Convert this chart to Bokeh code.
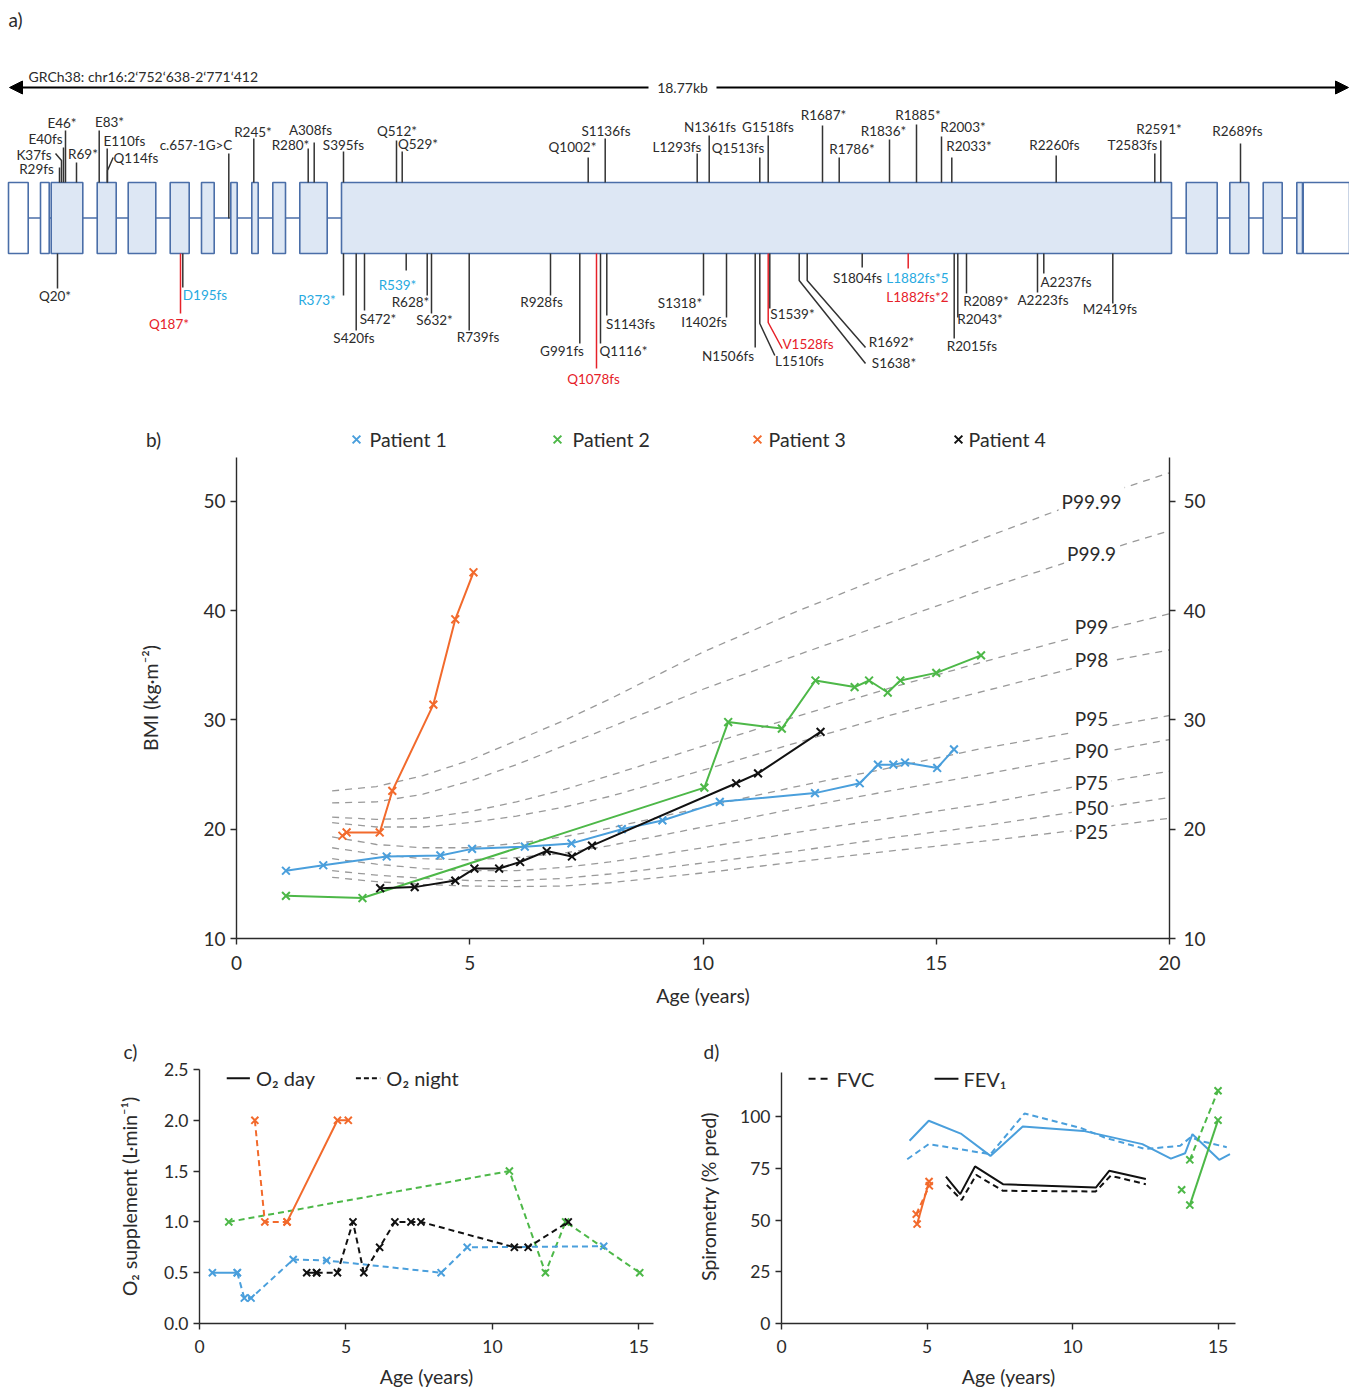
import math
from bokeh.plotting import figure
from bokeh.models import (Range1d, LinearAxis, FixedTicker, Label, Arrow, NormalHead,
                          PrintfTickFormatter)
from bokeh.layouts import row
from bokeh.embed import file_html
from bokeh.resources import INLINE
from bokeh.core.properties import value

FONT = "Lato"
TXT = "#2b2b2b"
BLUE = "#4a9fdc"
GREEN = "#4db848"
ORANGE = "#f26a2c"
BLACK = "#111111"
CYAN = "#27aae1"
RED = "#e62129"
EXON_FILL = "#dde7f4"
EXON_LINE = "#4a6ea8"
NAN = float("nan")

# ---------------- panel a data (diagram units along the gene) ----------------
exon_start = [8, 40, 50.7, 96.7, 127.7, 169.7, 201, 230.3, 251.3, 272.3, 299.3, 341,
              1185.7, 1229.3, 1262.7, 1296.3, 1302.7]
exon_end = [27.7, 48.7, 82.3, 115.7, 155.3, 188.7, 213.7, 236.7, 257.7, 285, 326.7, 1171,
            1216.7, 1248.3, 1281.7, 1302, 1349]
exon_utr = [1, 1, 0, 0, 0, 0, 0, 0, 0, 0, 0, 0, 0, 0, 0, 0, 1]

up_names = ["R29fs", "K37fs", "E40fs", "E46*", "R69*", "E83*", "E110fs", "Q114fs", "c.657-1G>C",
            "R245*", "R280*", "A308fs", "S395fs", "Q512*", "Q529*", "Q1002*", "S1136fs", "L1293fs",
            "N1361fs", "Q1513fs", "G1518fs", "R1687*", "R1786*", "R1836*", "R1885*", "R2003*",
            "R2033*", "R2260fs", "T2583fs", "R2591*", "R2689fs"]
up_pos = [59, 61, 63, 65, 76, 98.7, 106.7, 107, 228.3, 253.3, 307.7, 313.7, 343, 396, 401.7,
          587.7, 604.7, 696.7, 708.7, 759.3, 767.7, 822, 838.7, 889, 916, 941, 951.3, 1055.7,
          1154.3, 1160.3, 1240]
up_end = [167, 160, 147, 130, 162, 130, 148, 170, 153, 138, 148, 142, 151, 140, 151, 157, 138,
          153, 135, 157, 135, 125, 157, 139, 124, 136, 157, 155, 153, 140, 143]
up_bend_x = [NAN, 55, NAN, NAN, NAN, NAN, NAN, 112.7] + [NAN] * 23
up_bend_y = [NAN, 153, NAN, NAN, NAN, NAN, NAN, 157] + [NAN] * 23
up_label_x = [36, 33.5, 45, 61.5, 82.5, 109, 124, 135.5, 195.5, 252.5, 290, 310, 343, 396.5,
              417.5, 572, 605.5, 676.5, 709.5, 737.5, 767.5, 823, 851.5, 883, 917.5, 962.5,
              968.5, 1054, 1132, 1158.5, 1237]
up_label_y = [168, 154, 138, 122, 153, 121, 140, 157, 144, 131, 144, 129, 144, 130, 143, 146,
              130, 146, 126, 147, 126, 114, 148, 130, 114, 126, 145, 144, 144, 128, 130]

dn_names = ["Q20*", "Q187*", "D195fs", "R373*", "S420fs", "S472*", "R539*", "R628*", "S632*",
            "R739fs", "R928fs", "G991fs", "Q1078fs", "Q1116*", "S1143fs", "S1318*", "I1402fs",
            "N1506fs", "L1510fs", "V1528fs", "S1539*", "S1638*", "R1692*", "S1804fs",
            "L1882fs*2", "R2015fs", "R2043*", "R2089*", "A2223fs", "A2237fs", "M2419fs"]
dn_pos = [57, 180, 182.3, 343, 355.7, 364, 405.7, 426.7, 431, 468.7, 550, 579.3, 596, 600,
          606.3, 703, 726, 754.7, 759.3, 767.7, 769.3, 798.7, 806.7, 861.7, 907.7, 953.7,
          957.3, 966, 1037, 1043.3, 1112.3]
dn_end = [288, 313, 287, 295, 330, 310, 270, 295, 313, 330, 295, 343, 368, 343, 315, 295, 317,
          347, 323, 322, 308, 280, 280, 267, 268, 338, 317, 293, 292, 273, 303]
dn_bend_x = [NAN] * 18 + [774.3, 781.7, NAN, 865, 865] + [NAN] * 8
dn_bend_y = [NAN] * 18 + [355, 348, NAN, 363, 347] + [NAN] * 8
dn_label_x = [54.5, 168.5, 204.5, 316.5, 353.5, 377.5, 397, 410, 434, 477.5, 541, 561.5, 593,
              623, 630, 679.5, 703.5, 727.5, 799, 807.5, 792, 893.5, 891, 857, 917, 971.5,
              979.5, 985.5, 1042.5, 1065.5, 1109.5]
dn_label_y = [295, 323, 294, 299, 337, 318, 284, 301, 319, 336, 301, 350, 378, 350, 323, 302,
              321, 355, 360, 343, 313, 362, 341, 277, 296, 345, 318, 300, 299, 281, 308]
dn_kind = ["k", "r", "c", "c", "k", "k", "c", "k", "k", "k", "k", "k", "r", "k", "k", "k", "k",
           "k", "k", "r", "k", "k", "k", "k", "r", "k", "k", "k", "k", "k", "k"]

# ---------------- panel b data ----------------
patients = ["Patient 1", "Patient 2", "Patient 3", "Patient 4"]
p1_age = [1.06, 1.86, 3.22, 4.37, 5.05, 6.18, 7.18, 8.26, 9.13, 10.36, 12.40, 13.36, 13.75,
          14.08, 14.33, 15.02, 15.38]
p1_bmi = [16.2, 16.7, 17.5, 17.6, 18.2, 18.4, 18.7, 20.0, 20.8, 22.5, 23.3, 24.2, 25.9, 25.9,
          26.1, 25.6, 27.3]
p2_age = [1.06, 2.70, 10.03, 10.54, 11.69, 12.41, 13.25, 13.56, 13.96, 14.23, 15.0, 15.96]
p2_bmi = [13.9, 13.7, 23.8, 29.8, 29.2, 33.6, 33.0, 33.6, 32.5, 33.6, 34.3, 35.9]
p3_age = [2.27, 2.36, 3.07, 3.34, 4.22, 4.69, 5.08]
p3_bmi = [19.4, 19.7, 19.7, 23.5, 31.4, 39.2, 43.5]
p4_age = [3.08, 3.82, 4.69, 5.10, 5.63, 6.08, 6.65, 7.19, 7.62, 10.71, 11.18, 12.52]
p4_bmi = [14.6, 14.7, 15.3, 16.4, 16.4, 17.0, 18.0, 17.5, 18.5, 24.2, 25.1, 28.9]

pct_age = [2.05, 3, 4, 5, 6, 7, 8, 10, 12, 14, 16, 18, 20]
pct_names = ["P25", "P50", "P75", "P90", "P95", "P98", "P99", "P99.9", "P99.99"]
pct_vals = [
    [15.6, 15.2, 14.95, 14.8, 14.75, 14.8, 15.1, 16.0, 17.0, 18.0, 18.9, 19.9, 21.0],
    [16.2, 15.8, 15.5, 15.3, 15.3, 15.5, 15.9, 16.9, 18.0, 19.2, 20.3, 21.6, 22.9],
    [17.3, 16.8, 16.4, 16.2, 16.2, 16.5, 17.0, 18.3, 19.7, 21.0, 22.3, 23.9, 25.3],
    [18.3, 17.7, 17.3, 17.2, 17.4, 17.8, 18.5, 20.2, 21.9, 23.5, 25.0, 26.6, 28.2],
    [19.3, 18.6, 18.3, 18.3, 18.7, 19.3, 20.1, 22.0, 23.9, 25.6, 27.4, 28.9, 30.4],
    [20.6, 20.2, 20.2, 20.6, 21.2, 22.0, 23.0, 25.4, 27.9, 30.4, 32.6, 34.8, 36.4],
    [21.1, 20.9, 21.0, 21.6, 22.5, 23.6, 24.9, 27.6, 30.3, 32.9, 35.3, 37.6, 39.7],
    [22.4, 22.5, 23.2, 24.4, 25.9, 27.6, 29.3, 32.8, 35.9, 38.9, 41.9, 44.7, 47.3],
    [23.5, 23.9, 24.9, 26.3, 28.1, 29.9, 31.9, 36.2, 39.9, 43.3, 46.6, 49.8, 52.6],
]
pct_label_age = 18.33
pct_label_bmi = [19.8, 22.0, 24.3, 27.2, 30.1, 35.5, 38.5, 45.2, 50.0]

# ---------------- panel c data ----------------
c1_day_age = [0.44, 1.29]
c1_day = [0.5, 0.5]
c1_night_age = [1.29, 1.53, 1.76, 3.20, 4.34, 8.25, 9.14, 13.8]
c1_night = [0.5, 0.25, 0.25, 0.63, 0.62, 0.5, 0.75, 0.76]
c2_night_age = [1.0, 10.58, 11.81, 12.5, 15.03]
c2_night = [1.0, 1.5, 0.5, 1.0, 0.5]
c3_night_age = [1.89, 2.23, 2.99]
c3_night = [2.0, 1.0, 1.0]
c3_day_age = [2.99, 4.71, 5.08]
c3_day = [1.0, 2.0, 2.0]
c4_day_age = [3.66, 4.0]
c4_day = [0.5, 0.5]
c4_night_age = [4.0, 4.71, 5.24, 5.61, 6.15, 6.67, 7.22, 7.56, 10.75, 11.22, 12.59]
c4_night = [0.5, 0.5, 1.0, 0.5, 0.75, 1.0, 1.0, 1.0, 0.75, 0.75, 1.0]

# ---------------- panel d data ----------------
d1_fev_age = [4.40, 5.06, 6.16, 7.18, 8.29, 10.37, 12.40, 13.38, 13.87, 14.12, 15.04, 15.41]
d1_fev = [88.4, 98.1, 91.9, 81.1, 95.3, 93.2, 86.8, 79.8, 82.4, 91.6, 79.2, 81.9]
d1_fvc_age = [4.32, 5.06, 7.18, 8.35, 10.3, 11.1, 12.5, 13.7, 14.05, 14.5, 15.3]
d1_fvc = [79.5, 86.8, 81.9, 101.6, 94.5, 90.0, 84.4, 86.0, 90.0, 88.0, 85.3]
d4_fev_age = [5.65, 6.14, 6.65, 7.61, 10.80, 11.26, 12.52]
d4_fev = [71.1, 62.6, 76.0, 67.4, 65.8, 73.9, 69.9]
d4_fvc_age = [5.68, 6.19, 6.69, 7.61, 10.80, 11.31, 12.52]
d4_fvc = [67.1, 59.7, 71.9, 64.2, 63.9, 71.5, 67.4]
d3_fev_age = [4.66, 5.07]
d3_fev = [48.1, 68.7]
d3_fvc_age = [4.63, 5.08]
d3_fvc = [52.9, 66.6]
d2_fev_age = [14.03, 15.0]
d2_fev = [57.3, 98.4]
d2_fvc_age = [14.03, 15.0]
d2_fvc = [79.2, 112.6]
d2_other_age = [13.75]
d2_other = [64.7]


def lab(p, x, y, text, size, color=TXT, align="center", baseline="middle", angle=0.0, bg=None):
    kw = dict(x=x, y=y, text=text, text_font=FONT, text_font_size=size, text_color=color,
              text_align=align, text_baseline=baseline, angle=angle)
    if bg is not None:
        kw["background_fill_color"] = bg
        kw["padding"] = 3
    p.add_layout(Label(**kw))


def style_axis(ax, size, label=None, label_standoff=10):
    ax.axis_line_color = TXT
    ax.axis_line_width = 1.4
    ax.major_tick_line_color = TXT
    ax.major_tick_line_width = 1.4
    ax.major_tick_out = 6
    ax.major_tick_in = 0
    ax.minor_tick_line_color = None
    ax.major_label_text_font = FONT
    ax.major_label_text_font_size = size
    ax.major_label_text_color = TXT
    ax.major_label_standoff = 5
    if label is not None:
        ax.axis_label = label
        ax.axis_label_text_font = FONT
        ax.axis_label_text_font_size = "19.5px"
        ax.axis_label_text_font_style = "normal"
        ax.axis_label_text_color = TXT
        ax.axis_label_standoff = label_standoff


# ======================= panel a (plus the heading row of b) =======================
pa = figure(width=1349, height=457, x_range=Range1d(0, 1349), y_range=Range1d(457, 0),
            toolbar_location=None, output_backend="svg", x_axis_location=None,
            y_axis_location=None, min_border=0)
pa.grid.visible = False
pa.outline_line_color = None

lab(pa, 8, 19, "a)", "19px", align="left")
lab(pa, 28, 76, "GRCh38: chr16:2\u2018752\u2018638-2\u2018771\u2018412", "14px", align="left")
lab(pa, 682, 87, "18.77kb", "14px")
pa.add_layout(Arrow(end=NormalHead(size=13, fill_color="black", line_color="black"),
                    x_start=648, y_start=87, x_end=9, y_end=87, line_width=1.8, line_color="black"))
pa.add_layout(Arrow(end=NormalHead(size=13, fill_color="black", line_color="black"),
                    x_start=716, y_start=87, x_end=1348, y_end=87, line_width=1.8, line_color="black"))

pa.segment(x0=[exon_end[0]], y0=[217.5], x1=[exon_start[-1]], y1=[217.5],
           line_color=EXON_LINE, line_width=1.6)
pa.quad(left=exon_start, right=exon_end, top=182, bottom=253,
        fill_color=["white" if u else EXON_FILL for u in exon_utr],
        line_color=EXON_LINE, line_width=1.6)

col_of = {"k": TXT, "r": RED, "c": CYAN}
stem_of = {"k": "#333333", "r": RED, "c": "#333333"}

xs, ys = [], []
for i, x in enumerate(up_pos):
    base = 218 if up_names[i].startswith("c.") else 182
    if math.isnan(up_bend_x[i]):
        xs.append([x, x]); ys.append([base, up_end[i]])
    else:
        xs.append([x, x, up_bend_x[i]]); ys.append([base, up_end[i], up_bend_y[i]])
pa.multi_line(xs=xs, ys=ys, line_color="#333333", line_width=1.5)
pa.text(x=up_label_x, y=up_label_y, text=up_names, text_font=value(FONT),
        text_font_size="13.5px", text_color=TXT, text_align="center", text_baseline="middle")

xs, ys, cs = [], [], []
for i, x in enumerate(dn_pos):
    if math.isnan(dn_bend_x[i]):
        xs.append([x, x]); ys.append([253, dn_end[i]])
    else:
        xs.append([x, x, dn_bend_x[i]]); ys.append([253, dn_end[i], dn_bend_y[i]])
    cs.append(stem_of[dn_kind[i]])
pa.multi_line(xs=xs, ys=ys, line_color=cs, line_width=1.5)
pa.text(x=dn_label_x, y=dn_label_y, text=dn_names, text_font=value(FONT),
        text_font_size="13.5px", text_color=[col_of[k] for k in dn_kind],
        text_align="center", text_baseline="middle")
pa.text(x=[917], y=[277], text=["L1882fs*5"], text_font=value(FONT), text_font_size="13.5px",
        text_color=CYAN, text_align="center", text_baseline="middle")

# heading row of panel b: panel letter and patient legend
lab(pa, 153, 439, "b)", "19px")
leg_colors = [BLUE, GREEN, ORANGE, BLACK]
leg_mark_x = [356, 557, 757, 958]
leg_text_x = [369, 572, 768, 968]
pa.scatter(leg_mark_x, [439] * 4, marker="x", size=11, line_color=leg_colors, line_width=2)
pa.text(x=leg_text_x, y=[439] * 4, text=patients, text_font=value(FONT),
        text_font_size="19.5px", text_color=TXT, text_align="left", text_baseline="middle")

# ======================= panel b =======================
pb = figure(width=1349, height=558, x_range=Range1d(0, 20), y_range=Range1d(10, 54),
            toolbar_location=None, output_backend="svg", min_border_left=236,
            min_border_right=180, min_border_top=0, min_border_bottom=77)
pb.grid.visible = False
pb.outline_line_color = None
pb.xaxis.ticker = FixedTicker(ticks=[0, 5, 10, 15, 20])
pb.yaxis.ticker = FixedTicker(ticks=[10, 20, 30, 40, 50])
pb.add_layout(LinearAxis(ticker=FixedTicker(ticks=[10, 20, 30, 40, 50])), "right")
style_axis(pb.xaxis[0], "19px", "Age (years)", 11)
style_axis(pb.yaxis[0], "19px", "BMI (kg\u00b7m\u207b\u00b2)", 38)
style_axis(pb.yaxis[1], "19px")
pb.xaxis.major_label_standoff = 11
pb.yaxis[1].major_label_standoff = 8

for vals in pct_vals:
    pb.line(pct_age, vals, line_color="#9a9a9a", line_width=1.3, line_dash="7 6")
for name, yv in zip(pct_names, pct_label_bmi):
    lab(pb, pct_label_age, yv, name, "19px", bg="white")

for ages, vals, c in [(p2_age, p2_bmi, GREEN), (p1_age, p1_bmi, BLUE),
                      (p4_age, p4_bmi, BLACK), (p3_age, p3_bmi, ORANGE)]:
    pb.line(ages, vals, line_color=c, line_width=2)
    pb.scatter(ages, vals, marker="x", size=11, line_color=c, line_width=2)

# ======================= panel c =======================
pc = figure(width=670, height=375, x_range=Range1d(0, 15.5), y_range=Range1d(0, 2.5),
            toolbar_location=None, output_backend="svg", min_border_left=199,
            min_border_right=17, min_border_top=54, min_border_bottom=67, title="c)")
pc.grid.visible = False
pc.outline_line_color = None
pc.xaxis.ticker = FixedTicker(ticks=[0, 5, 10, 15])
pc.yaxis.ticker = FixedTicker(ticks=[0, 0.5, 1.0, 1.5, 2.0, 2.5])
pc.yaxis.formatter = PrintfTickFormatter(format="%.1f")
style_axis(pc.xaxis[0], "17.5px", "Age (years)", 9)
style_axis(pc.yaxis[0], "17.5px", "O\u2082 supplement (L\u00b7min\u207b\u00b9)", 20)
pc.xaxis.major_label_standoff = 10

DASH = "6 4"
for ages, vals, c, dash in [
        (c2_night_age, c2_night, GREEN, DASH),
        (c1_day_age, c1_day, BLUE, "solid"), (c1_night_age, c1_night, BLUE, DASH),
        (c3_night_age, c3_night, ORANGE, DASH), (c3_day_age, c3_day, ORANGE, "solid"),
        (c4_day_age, c4_day, BLACK, "solid"), (c4_night_age, c4_night, BLACK, DASH)]:
    pc.line(ages, vals, line_color=c, line_width=2, line_dash=dash)
    pc.scatter(ages, vals, marker="x", size=10, line_color=c, line_width=2)

pc.line([0.93, 1.72], [2.415, 2.415], line_color=BLACK, line_width=2)
pc.line([5.34, 6.17], [2.415, 2.415], line_color=BLACK, line_width=2, line_dash="5 3")
lab(pc, 1.93, 2.415, "O\u2082 day", "20px", align="left")
lab(pc, 6.38, 2.415, "O\u2082 night", "20px", align="left")

# ======================= panel d =======================
pd = figure(width=679, height=375, x_range=Range1d(0, 15.6), y_range=Range1d(0, 122.9),
            toolbar_location=None, output_backend="svg", min_border_left=111,
            min_border_right=114, min_border_top=54, min_border_bottom=67, title="d)")
pd.grid.visible = False
pd.outline_line_color = None
pd.xaxis.ticker = FixedTicker(ticks=[0, 5, 10, 15])
pd.yaxis.ticker = FixedTicker(ticks=[0, 25, 50, 75, 100])
style_axis(pd.xaxis[0], "17.5px", "Age (years)", 9)
style_axis(pd.yaxis[0], "17.5px", "Spirometry (% pred)", 17)
pd.yaxis.bounds = (0, 121.4)
pd.xaxis.major_label_standoff = 10

for ages, vals, c, dash, mk in [
        (d1_fvc_age, d1_fvc, BLUE, DASH, False), (d1_fev_age, d1_fev, BLUE, "solid", False),
        (d4_fvc_age, d4_fvc, BLACK, DASH, False), (d4_fev_age, d4_fev, BLACK, "solid", False),
        (d3_fvc_age, d3_fvc, ORANGE, DASH, True), (d3_fev_age, d3_fev, ORANGE, "solid", True),
        (d2_fvc_age, d2_fvc, GREEN, DASH, True), (d2_fev_age, d2_fev, GREEN, "solid", True)]:
    pd.line(ages, vals, line_color=c, line_width=2, line_dash=dash)
    if mk:
        pd.scatter(ages, vals, marker="x", size=10, line_color=c, line_width=2)
pd.scatter(d2_other_age, d2_other, marker="x", size=10, line_color=GREEN, line_width=2)

pd.line([0.93, 1.68], [118.4, 118.4], line_color=BLACK, line_width=2, line_dash="7 5")
pd.line([5.26, 6.08], [118.4, 118.4], line_color=BLACK, line_width=2)
lab(pd, 1.89, 118.4, "FVC", "20px", align="left")
lab(pd, 6.25, 118.4, "FEV\u2081", "20px", align="left")

for p, off in [(pc, -76), (pd, -78)]:
    p.title.align = "left"
    p.title.offset = off
    p.title.text_font = FONT
    p.title.text_font_size = "19px"
    p.title.text_font_style = "normal"
    p.title.text_color = TXT
    p.title.standoff = 14

open("out.html", "w").write(file_html([pa, pb, row(pc, pd)], INLINE))
